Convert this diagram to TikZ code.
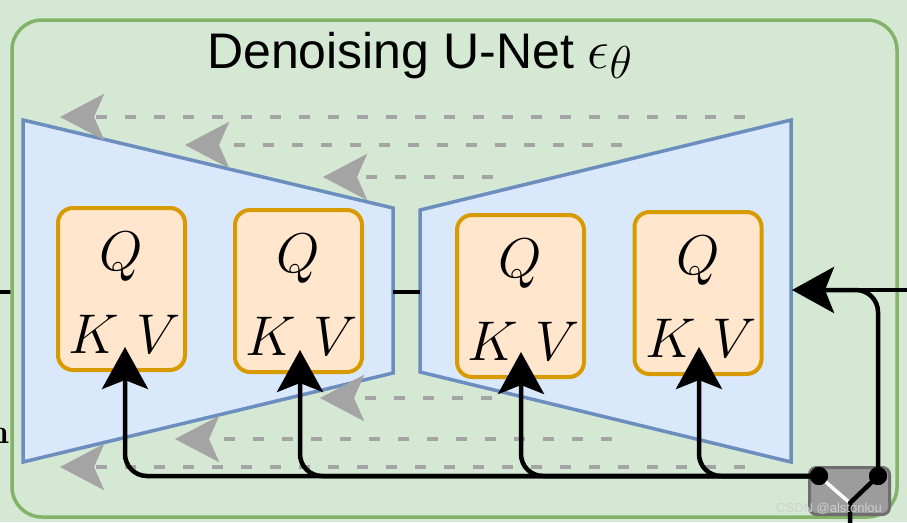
\RequirePackage{fix-cm}
\documentclass[tikz,border=0pt]{standalone}
\usepackage{fontspec}
\newfontfamily\titlefont{Liberation Sans}
\usetikzlibrary{arrows.meta,calc}
\definecolor{bggreen}{HTML}{D5E8D4}
\definecolor{grborder}{HTML}{82B366}
\definecolor{bluefill}{HTML}{DAE8FC}
\definecolor{bluestroke}{HTML}{6C8EBF}
\definecolor{orfill}{HTML}{FFE6CC}
\definecolor{orstroke}{HTML}{D79B00}
\definecolor{arrgray}{HTML}{A4A4A4}
\definecolor{swfill}{HTML}{9C9C9C}
\definecolor{swstroke}{HTML}{6E6E6E}
\definecolor{wmgray}{HTML}{CFCFCF}
\tikzset{
  blk/.style={line width=4.5pt, draw=black},
  blkarr/.style={blk, rounded corners=22pt, -{Stealth[length=42pt,width=46pt,inset=9pt]}},
  garr/.style={line width=4.5pt, draw=arrgray, dash pattern=on 11pt off 18pt,
    -{Stealth[length=44pt,width=46pt,inset=10pt,fill=arrgray]}},
  trap/.style={draw=bluestroke, fill=bluefill, line width=3.5pt, line join=miter},
  qkv/.style={draw=orstroke, fill=orfill, line width=4pt, rounded corners=15pt,
    minimum width=127pt, minimum height=162pt, inner sep=0pt},
  qkvtxt/.style={anchor=base, inner sep=0pt, font=\fontsize{56}{56}\selectfont},
  dot/.style={circle, fill=black, minimum size=18pt, inner sep=0pt},
}
\begin{document}
\begin{tikzpicture}[x=1pt,y=-1pt]
\useasboundingbox (0,0) rectangle (907,522);
\fill[bggreen] (0,0) rectangle (907,522);
% left incoming line
\coordinate (lin) at (0,292);
\coordinate (lout) at (23,292);
\draw[blk, line width=4pt] (lin) -- (lout);
% cut letter at left edge
\begin{scope}
\clip (0,400) rectangle (11,460);
\node[anchor=base east, inner sep=0pt] (cut) at (9.5,443) {\fontsize{34}{34}\selectfont\bfseries n};
\end{scope}
% outer box
\draw[grborder, fill=bggreen, line width=3.5pt, rounded corners=30pt] (12,20) rectangle (897,517);
% title
\node[anchor=base west, inner sep=0pt] (title) at (207,68)
  {\titlefont\fontsize{50}{50}\selectfont Denoising U-Net
   {\fontsize{55}{55}\selectfont$\epsilon$}\raisebox{-10pt}{\fontsize{46}{46}\selectfont$\theta$}};
% trapezoids
\draw[trap] (23,120) -- (393,208) -- (393,373) -- (23,462) -- cycle;
\draw[trap] (420,210) -- (791,120) -- (791,462) -- (420,372) -- cycle;
\coordinate (ml) at (393,292);
\coordinate (mr) at (420,292);
\draw[blk, line width=4pt] (ml) -- (mr);
% skip connections
\coordinate (s1) at (745,117); \coordinate (e1) at (60,117);
\coordinate (s2) at (622,145); \coordinate (e2) at (185,145);
\coordinate (s3) at (493,177); \coordinate (e3) at (323,177);
\coordinate (s4) at (492,398); \coordinate (e4) at (320,398);
\coordinate (s5) at (612,439); \coordinate (e5) at (175,439);
\coordinate (s6) at (745,467); \coordinate (e6) at (60,467);
\foreach \i in {1,...,6} { \draw[garr] (s\i) -- (e\i); }
% attention boxes
\node[qkv] (b1) at (121.5,289) {};
\node[qkv] (b2) at (298.5,291) {};
\node[qkv] (b3) at (520.5,296) {};
\node[qkv] (b4) at (698,293) {};
\foreach \b in {1,...,4} {
  \node[qkvtxt] (q\b) at ($(b\b.center)+(0,-19)$) {$Q$};
  \node[qkvtxt] (kv\b) at ($(b\b.center)+(3,64)$) {$K\hspace{0.3em}V$};
}
% switch
\node[draw=swstroke, fill=swfill, line width=3pt, rounded corners=7pt,
  minimum width=80pt, minimum height=47pt, inner sep=0pt] (sw) at (849.5,491) {};
\coordinate (sp) at (850,503);
\coordinate (down) at (850,540);
\node[dot] (d1) at (819,476) {};
\node[dot] (d2) at (878,476) {};
\draw[white, line width=3.5pt] (d1.center) -- (sp);
\draw[blk] (d2.center) -- (sp) -- (down);
% cross-attention conditioning arrows
\coordinate (t1) at (125,347);
\coordinate (t2) at (300,350);
\coordinate (t3) at (521,352);
\coordinate (t4) at (699,347);
\coordinate (t5) at (792,290);
\coordinate (rin) at (907,290);
\coordinate (rj) at (850,290);
\foreach \i in {1,...,4} { \draw[blkarr] (d1.center) -| (t\i); }
\draw[blkarr] (d2.center) |- (t5);
\draw[blk] (rin) -- (rj);
\node[dot] (d1b) at (d1) {};
\node[dot] (d2b) at (d2) {};
% watermark
\node[anchor=base west, inner sep=0pt, text=wmgray] (wm) at (776,512)
  {\titlefont\fontsize{13}{13}\selectfont CSDN @alstonlou};
\end{tikzpicture}
\end{document}
